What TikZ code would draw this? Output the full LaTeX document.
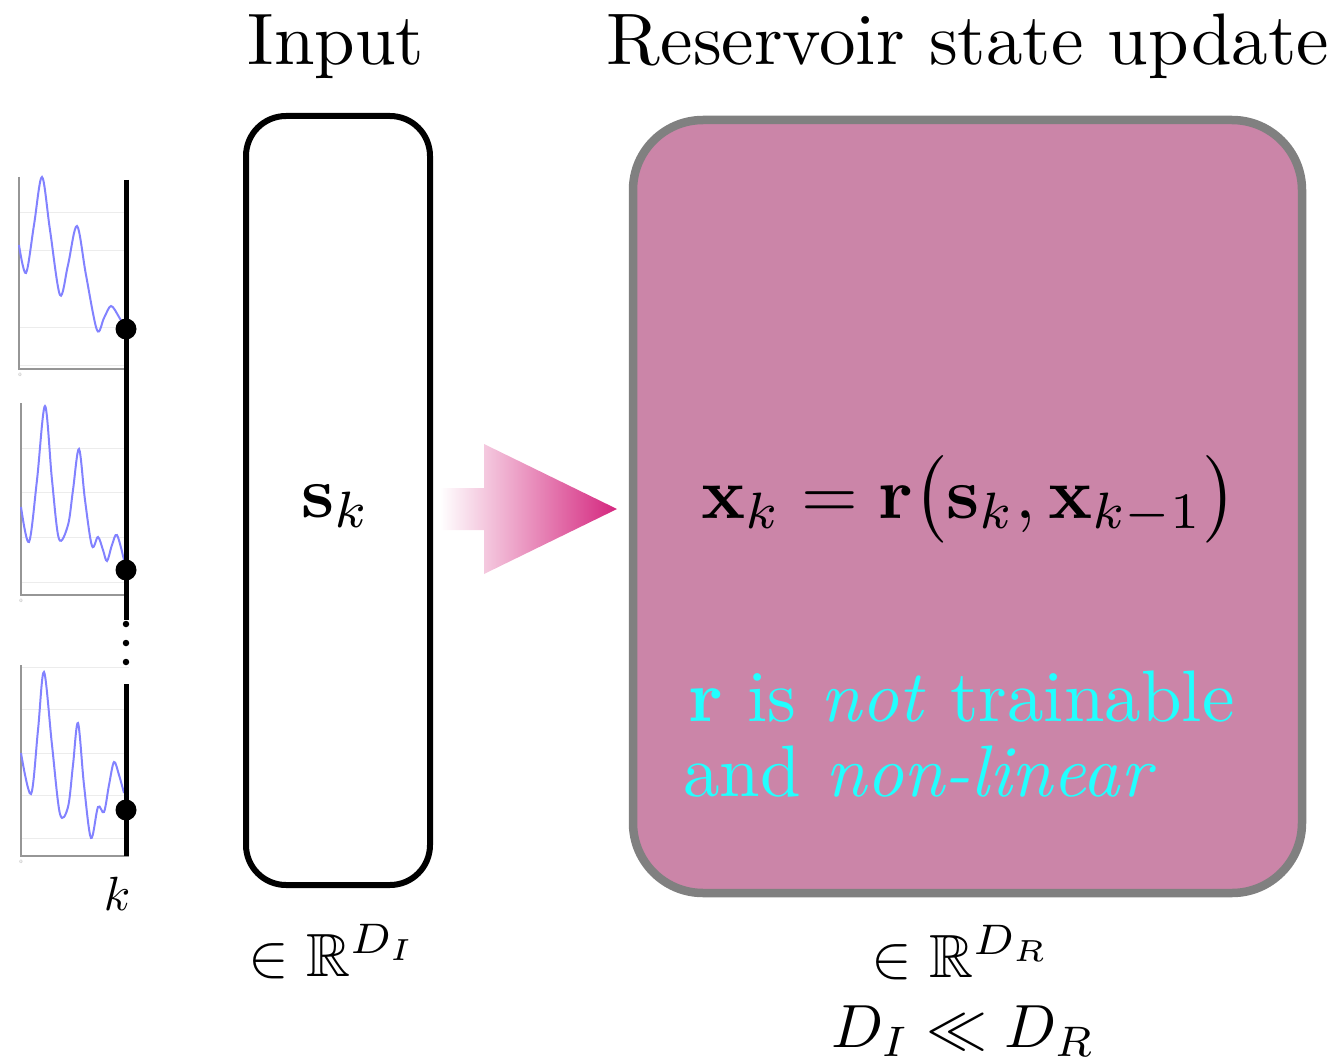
\documentclass[tikz,border=0pt]{standalone}
\usepackage{fix-cm}
\usepackage{graphicx}
\usepackage{amsmath,amssymb}
\definecolor{resfill}{RGB}{203,133,168}
\definecolor{resborder}{RGB}{128,128,128}
\definecolor{arrowmag}{RGB}{212,38,126}
\definecolor{txtcyan}{RGB}{34,255,255}
\definecolor{sigblue}{RGB}{130,130,255}
\definecolor{gridgray}{RGB}{236,236,236}
\definecolor{axisgray}{RGB}{150,150,150}
\newcommand{\bigsc}[2]{\scalebox{#1}{#2}}
\begin{document}
\begin{tikzpicture}[x=1pt,y=-1pt,
  lbl/.style={font=\fontsize{10}{12}\selectfont, inner sep=0pt, anchor=base},
  cyantxt/.style={font=\fontsize{10}{12}\selectfont, text=txtcyan, inner sep=0pt, anchor=base west},
  inbox/.style={draw=black, line width=6pt, rounded corners=40pt, fill=white, minimum width=184pt, minimum height=769pt, inner sep=0pt},
  resbox/.style={draw=resborder, line width=8.5pt, rounded corners=70pt, fill=resfill, minimum width=669pt, minimum height=773pt, inner sep=0pt},
  axisline/.style={draw=axisgray, line width=1.6pt},
  gridline/.style={draw=gridgray, line width=1pt},
  signal/.style={draw=sigblue, line width=2pt, smooth, tension=0.55},
  timeline/.style={draw=black, line width=5pt},
  bigdot/.style={circle, fill=black, inner sep=0pt, minimum size=21pt},
  smalldot/.style={circle, fill=black, inner sep=0pt, minimum size=6.5pt},
  zerolbl/.style={font=\fontsize{5}{6}\selectfont, text=axisgray, inner sep=0pt}
]
\useasboundingbox (0,0) rectangle (1339,1062);

% ---------- titles ----------
\node[lbl] (tin) at (336,65) {\bigsc{7.3}{Input}};
\node[lbl] (tres) at (968,65) {\bigsc{7.3}{Reservoir state update}};

% ---------- signal plots ----------
% plot 1
\foreach \yy in {212,250,327,365} \draw[gridline] (19,\yy) -- (129,\yy);
\draw[axisline] (19,177) -- (19,369) -- (129,369);
\draw[signal] plot coordinates {(19,245) (26,273) (34,225) (42,177) (50,230) (60,295) (68,265) (77,226) (86,275) (97,330) (104,318) (111,306) (119,317) (126,330)};
\node[zerolbl] (z1) at (20,375) {0};
% plot 2
\foreach \yy in {448,492,537,582} \draw[gridline] (21,\yy) -- (129,\yy);
\draw[axisline] (21,403) -- (21,595) -- (129,595);
\draw[signal] plot coordinates {(21,507) (29,542) (37,480) (45,406) (52,480) (59,539) (68,525) (73,490) (79,449) (85,500) (92,546) (98,537) (103,550) (107,561) (112,545) (117,535) (124,560)};
\node[zerolbl] (z2) at (21,601) {0};
% plot 3
\foreach \yy in {667,709,753,795,838} \draw[gridline] (21,\yy) -- (129,\yy);
\draw[axisline] (21,665) -- (21,856) -- (129,856);
\draw[signal] plot coordinates {(21,753) (31,794) (38,730) (44,672) (52,745) (60,814) (68,807) (73,765) (78,723) (84,785) (91,838) (98,807) (104,812) (109,785) (114,762) (119,775) (124,793)};
\node[zerolbl] (z3) at (21,862) {0};

% time line with sample points
\coordinate (tl1a) at (126,180);
\coordinate (tl1b) at (126,620);
\coordinate (tl2a) at (126,684);
\coordinate (tl2b) at (126,856);
\draw[timeline] (tl1a) -- (tl1b);
\draw[timeline] (tl2a) -- (tl2b);
\node[bigdot] (d1) at (126,329) {};
\node[bigdot] (d2) at (126,570) {};
\node[bigdot] (d3) at (126,810) {};
\node[smalldot] (e1) at (126,624) {};
\node[smalldot] (e2) at (126,643) {};
\node[smalldot] (e3) at (126,662) {};
\node[lbl] (klbl) at (117,910) {\bigsc{4.8}{$k$}};

% ---------- input box ----------
\node[inbox] (inp) at (338,500.5) {};
\node[lbl] (sk) at (336,517) {\bigsc{7.3}{$\mathbf{s}_k$}};
\node[lbl] (dimi) at (333,976) {\bigsc{6.1}{$\in\mathbb{R}^{D_I}$}};

% ---------- arrow ----------
\shade[left color=white, right color=arrowmag]
  (440,488) -- (484,488) -- (484,444) -- (617,509) -- (484,574) -- (484,530) -- (440,530) -- cycle;

% ---------- reservoir box ----------
\node[resbox] (res) at (967.5,506.5) {};
\node[lbl] (eq) at (969,518) {\bigsc{7.3}{$\mathbf{x}_k=\mathbf{r}\bigl(\mathbf{s}_k,\mathbf{x}_{k-1}\bigr)$}};
\node[cyantxt] (c1) at (688,721) {\bigsc{7.3}{$\mathbf{r}$ is \emph{not} trainable}};
\node[cyantxt] (c2) at (683,796) {\bigsc{7.3}{and \emph{non-linear}}};
\node[lbl] (dimr) at (961,977) {\bigsc{6.1}{$\in\mathbb{R}^{D_R}$}};
\node[lbl] (dll) at (963,1047) {\bigsc{6.1}{$D_I\ll D_R$}};
\end{tikzpicture}
\end{document}
